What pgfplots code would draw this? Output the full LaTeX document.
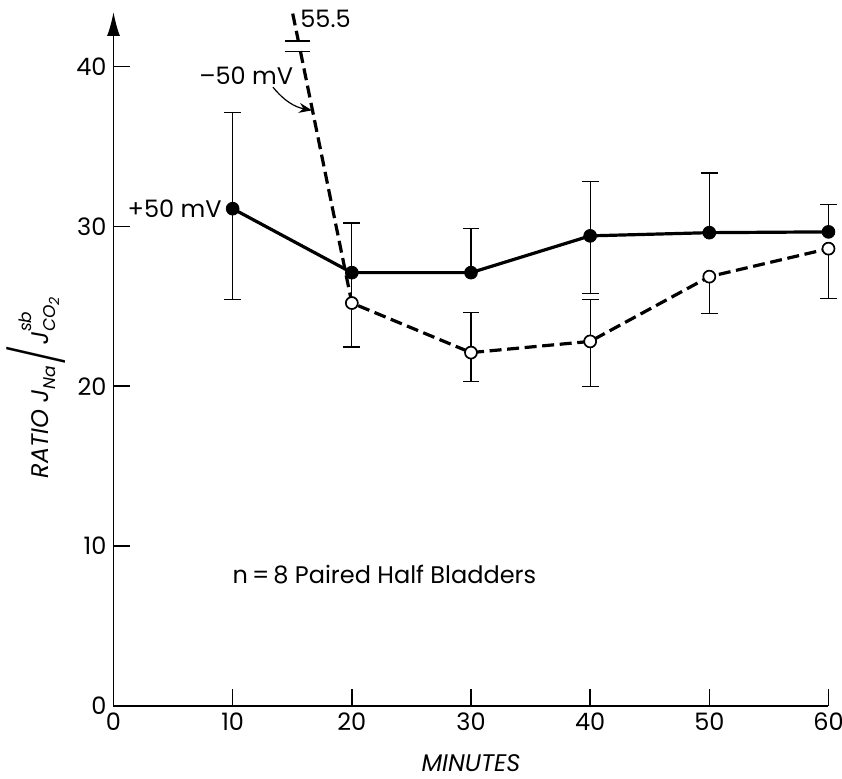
\documentclass[border=0pt]{standalone}
\usepackage{fontspec}
\setmainfont{Poppins}
\usepackage{graphicx}
\usepackage{pgfplots}
\pgfplotsset{compat=1.18}
\usetikzlibrary{arrows.meta}
\newcommand{\lab}{\fontsize{12}{14}\selectfont}
\newcommand{\sub}[1]{\raisebox{-0.55ex}{\fontsize{8.5}{10}\selectfont #1}}
\begin{document}
\begin{tikzpicture}
\pgfplotsset{
  ebar/.style={black, forget plot, only marks, mark=*, mark size=0.1pt,
    error bars/y explicit,
    error bars/error mark=|,
    error bars/error bar style={black, line width=0.65pt, solid},
    error bars/error mark options={black, line width=0.65pt, mark size=4.2pt, solid}},
}
\begin{axis}[
  at={(0,0)}, anchor=south west,
  scale only axis, width=357.5pt, height=347pt,
  xmin=0, xmax=60, ymin=0, ymax=43.4,
  axis x line=bottom, axis y line=left,
  every outer x axis line/.append style={-},
  x axis line style={-, line width=1pt},
  y axis line style={-{Latex[length=12pt,width=6.5pt]}, line width=0.8pt},
  xtick={0,10,...,60}, ytick={0,10,...,40},
  tick align=inside, major tick length=8.5pt,
  tick style={line width=0.7pt, black},
  /pgf/number format/assume math mode=true,
  ticklabel style={font=\lab},
  clip=false,
]
% open (-50 mV) dashed line, with break
\addplot[black, line width=1.6pt, dash pattern=on 6pt off 2.8pt, unbounded coords=jump] coordinates {
  (15.04,43.3) (15.51,41.6) (15.6,nan) (15.685,40.95) (20,25.2) (30,22.1) (40,22.8) (50,26.85) (60,28.6)};
% filled (+50 mV) solid line
\addplot[black, line width=1.6pt] coordinates {
  (10,31.1) (20,27.1) (30,27.1) (40,29.4) (50,29.6) (60,29.65)};
% filled error bars, upper
\addplot[ebar, error bars/y dir=plus] table[x=x, y=y, y error plus=e] {
x y e
10 31.1 6.0
20 27.1 3.1
30 27.1 2.75
40 29.4 3.4
50 29.6 3.73
60 29.65 1.72
};
% filled error bars, lower
\addplot[ebar, error bars/y dir=minus] table[x=x, y=y, y error minus=e] {
x y e
10 31.1 5.7
40 29.4 3.6
};
% open error bars, upper
\addplot[ebar, error bars/y dir=plus] table[x=x, y=y, y error plus=e] {
x y e
30 22.1 2.5
40 22.8 2.6
};
\addplot[ebar, error bars/y dir=plus, error bars/error mark=none] table[x=x, y=y, y error plus=e] {
x y e
20 25.2 1.9
};
% open error bars, lower
\addplot[ebar, error bars/y dir=minus] table[x=x, y=y, y error minus=e] {
x y e
20 25.2 2.75
30 22.1 1.8
40 22.8 2.8
50 26.85 2.3
60 28.6 3.1
};
% markers
\addplot[only marks, mark=*, mark size=3.2pt, black] coordinates {
  (10,31.1) (20,27.1) (30,27.1) (40,29.4) (50,29.6) (60,29.65)};
\addplot[only marks, mark=*, mark size=3.0pt, mark options={fill=white, draw=black, line width=0.85pt, solid}] coordinates {
  (20,25.2) (30,22.1) (40,22.8) (50,26.85) (60,28.6)};
% break marks
\draw[line width=0.65pt] (axis cs:14.39,41.58) -- (axis cs:16.49,41.58);
\draw[line width=0.65pt] (axis cs:14.39,40.94) -- (axis cs:16.49,40.94);
% labels
\node[anchor=east, inner sep=0pt, font=\lab] at (axis cs:9.1,31.1) {+50 mV};
\node[inner sep=0pt, font=\lab] at (axis cs:11.13,39.4) {–50 mV};
\node[anchor=west, inner sep=0pt, font=\lab] at (axis cs:15.65,43.0) {55.5};
\draw[-{Stealth[length=6.5pt,width=5pt]}, line width=0.6pt] (axis cs:13.38,38.7) to[bend right=20] (axis cs:16.66,37.25);
\node[anchor=west, inner sep=0pt, font=\lab] at (axis cs:9.97,8.2) {n\,=\,8 Paired Half Bladders};
\node[inner sep=0pt, font=\lab\itshape] at (axis cs:30,-3.55) {MINUTES};
\node[inner sep=0pt, rotate=90, font=\lab\itshape] at (axis cs:-6.5,19.9)
  {RATIO J\sub{Na}\kern2pt\raisebox{-0.6ex}{\scalebox{1.2}[2.2]{/}}\kern2pt J\rlap{\raisebox{1.3ex}{\fontsize{8.5}{10}\selectfont sb}}\sub{CO\raisebox{-0.35ex}{\fontsize{7}{8}\selectfont 2}}};
\end{axis}
\pgfresetboundingbox
\path[use as bounding box] (-56.75pt,-36pt) rectangle (364.25pt,353pt);
\end{tikzpicture}
\end{document}
